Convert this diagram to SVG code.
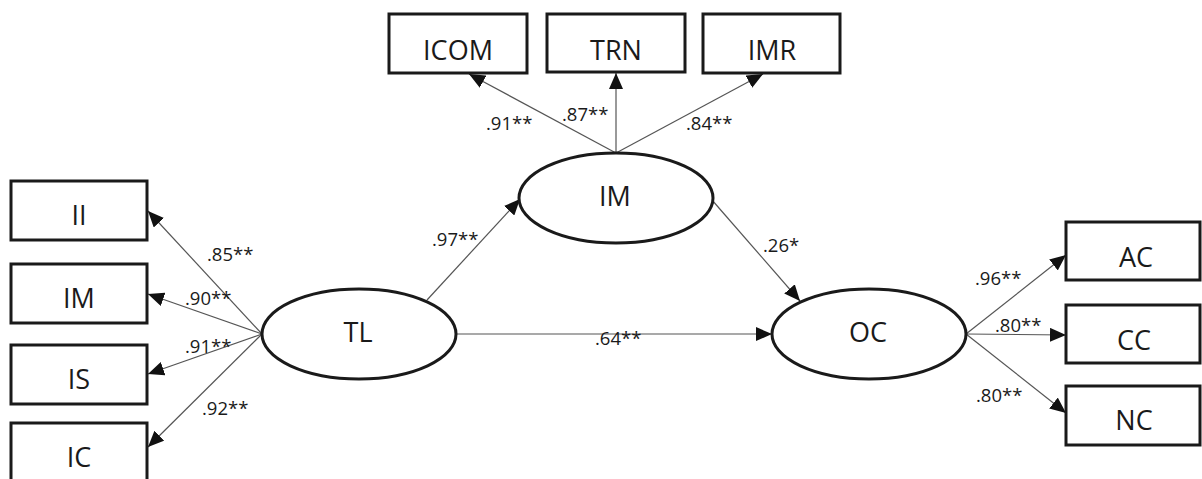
<svg xmlns="http://www.w3.org/2000/svg" width="1202" height="479" viewBox="0 0 1202 479">
<style>
.box{fill:#fff;stroke:#1a1a1a;stroke-width:3}
.ell{fill:#fff;stroke:#1a1a1a;stroke-width:3}
.t{font-family:"Open Sans","Noto Sans",sans-serif;font-size:27px;fill:#1a1a1a;text-anchor:middle}
.l{font-family:"Open Sans","Noto Sans",sans-serif;font-size:18.5px;fill:#1a1a1a}
.c{stroke:#555;stroke-width:1.2;fill:none;marker-end:url(#ah)}
</style>
<defs>
<marker id="ah" markerUnits="userSpaceOnUse" markerWidth="17" markerHeight="14" viewBox="0 0 17 14" refX="16" refY="7" orient="auto">
<path d="M0,0 L16,7 L0,14 z" fill="#111"/>
</marker>
</defs>
<g id="connectors">
<line class="c" x1="262" y1="334" x2="148" y2="211"/>
<line class="c" x1="262" y1="334" x2="148" y2="294"/>
<line class="c" x1="262" y1="334" x2="148" y2="374"/>
<line class="c" x1="262" y1="334" x2="148" y2="447"/>
<line class="c" x1="616" y1="153" x2="469" y2="74"/>
<line class="c" x1="616" y1="153" x2="616" y2="73"/>
<line class="c" x1="616" y1="153" x2="763" y2="74"/>
<line class="c" x1="427" y1="300" x2="520" y2="199"/>
<line class="c" x1="712" y1="200" x2="800" y2="301"/>
<line class="c" x1="456" y1="334" x2="772" y2="334"/>
<line class="c" x1="966" y1="334" x2="1066" y2="255"/>
<line class="c" x1="966" y1="334" x2="1066" y2="335"/>
<line class="c" x1="966" y1="334" x2="1066" y2="413"/>
<text class="l" x="207" y="261">.85**</text>
<text class="l" x="185" y="305">.90**</text>
<text class="l" x="185" y="353">.91**</text>
<text class="l" x="202" y="415">.92**</text>
<text class="l" x="486" y="130">.91**</text>
<text class="l" x="562" y="121">.87**</text>
<text class="l" x="686" y="130">.84**</text>
<text class="l" x="432" y="246">.97**</text>
<text class="l" x="763" y="252">.26*</text>
<text class="l" x="595" y="345">.64**</text>
<text class="l" x="975" y="285">.96**</text>
<text class="l" x="995" y="332">.80**</text>
<text class="l" x="976" y="402">.80**</text>
</g>
<g id="n_II"><rect class="box" x="11" y="181" width="136" height="59"/><text class="t" x="79" y="225">II</text></g>
<g id="n_IM1"><rect class="box" x="11" y="264" width="136" height="59"/><text class="t" x="79" y="308">IM</text></g>
<g id="n_IS"><rect class="box" x="11" y="345" width="136" height="59"/><text class="t" x="79" y="389">IS</text></g>
<g id="n_IC"><rect class="box" x="11" y="423" width="136" height="59"/><text class="t" x="79" y="467">IC</text></g>
<g id="n_TL"><ellipse class="ell" cx="359" cy="334" rx="97" ry="45"/><text class="t" x="358" y="342">TL</text></g>
<g id="n_ICOM"><rect class="box" x="389" y="14" width="138" height="59"/><text class="t" x="458" y="60">ICOM</text></g>
<g id="n_TRN"><rect class="box" x="547" y="14" width="138" height="58"/><text class="t" x="616" y="60">TRN</text></g>
<g id="n_IMR"><rect class="box" x="703" y="14" width="137" height="59"/><text class="t" x="772" y="60">IMR</text></g>
<g id="n_IM"><ellipse class="ell" cx="616" cy="198" rx="97" ry="45"/><text class="t" x="615" y="206">IM</text></g>
<g id="n_OC"><ellipse class="ell" cx="869" cy="334" rx="97" ry="45"/><text class="t" x="868" y="342">OC</text></g>
<g id="n_AC"><rect class="box" x="1066" y="222" width="134" height="58"/><text class="t" x="1136" y="267">AC</text></g>
<g id="n_CC"><rect class="box" x="1066" y="305" width="134" height="58"/><text class="t" x="1134" y="350">CC</text></g>
<g id="n_NC"><rect class="box" x="1066" y="386" width="134" height="59"/><text class="t" x="1134" y="430">NC</text></g>
</svg>
